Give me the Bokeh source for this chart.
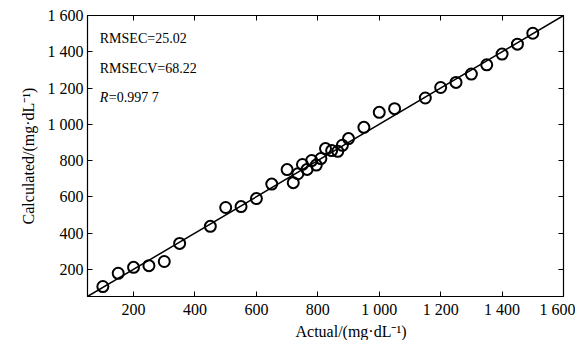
from bokeh.plotting import figure
from bokeh.models import Range1d, LinearAxis, Slope, Label, FixedTicker, Title
from bokeh.embed import file_html
from bokeh.resources import INLINE

actual = [100, 150, 200, 250, 300, 350, 450, 500, 550, 600, 650, 700, 720,
          735, 750, 765, 780, 795, 810, 825, 845, 865, 880, 900, 950, 1000,
          1050, 1150, 1200, 1250, 1300, 1350, 1400, 1450, 1500]
calculated = [105, 178, 211, 220, 243, 343, 437, 541, 546, 590, 670, 750, 678,
              727, 778, 751, 800, 775, 811, 866, 855, 851, 884, 921, 983, 1066,
              1086, 1145, 1203, 1231, 1277, 1328, 1387, 1442, 1502]
ticks = [200, 400, 600, 800, 1000, 1200, 1400, 1600]
tick_labels = ["200", "400", "600", "800", "1 000", "1 200", "1 400", "1 600"]
stats = ["RMSEC=25.02", "RMSECV=68.22"]
r_value = "=0.997 7"

FONT = "Liberation Serif"
overrides = {t: s for t, s in zip(ticks, tick_labels)}

p = figure(width=575, height=340, output_backend="svg", toolbar_location=None,
           x_range=Range1d(50, 1600), y_range=Range1d(50, 1600),
           min_border_left=87, min_border_right=12, min_border_top=15,
           min_border_bottom=44)
p.xgrid.visible = False
p.ygrid.visible = False
p.outline_line_color = "black"
p.outline_line_width = 1.2
p.background_fill_color = "white"
p.border_fill_color = "white"

for ax in (p.xaxis[0], p.yaxis[0]):
    ax.ticker = FixedTicker(ticks=ticks)
    ax.major_label_overrides = overrides
    ax.major_tick_in = 5
    ax.major_tick_out = 0
    ax.minor_tick_in = 0
    ax.minor_tick_out = 0
    ax.major_label_text_font = FONT
    ax.major_label_text_font_size = "16px"
    ax.major_label_text_color = "black"
    ax.axis_line_color = "black"
    ax.major_tick_line_color = "black"
    ax.major_label_standoff = 4

p.yaxis[0].axis_label = "Calculated/(mg·dL⁻¹)"
p.yaxis[0].axis_label_text_font = FONT
p.yaxis[0].axis_label_text_font_size = "16px"
p.yaxis[0].axis_label_text_font_style = "normal"
p.yaxis[0].axis_label_text_color = "black"
p.yaxis[0].axis_label_standoff = 8

for loc in ("right", "above"):
    a = LinearAxis(ticker=FixedTicker(ticks=ticks), major_tick_in=5,
                   major_tick_out=0, minor_tick_in=0, minor_tick_out=0,
                   major_label_overrides={t: "" for t in ticks},
                   major_label_standoff=0, axis_line_color="black")
    p.add_layout(a, loc)

# x axis title, shifted right like the reference
p.add_layout(Title(text="Actual/(mg·dL⁻¹)", align="left", offset=208,
                   text_font=FONT, text_font_size="16px",
                   text_font_style="normal", text_color="black", standoff=0),
             "below")

p.add_layout(Slope(gradient=1, y_intercept=0, line_color="black", line_width=1.5))

p.scatter(actual, calculated, size=11, marker="circle", fill_color=None,
          line_color="black", line_width=2)

for i, s in enumerate(stats):
    p.add_layout(Label(x=90, y=1550, y_offset=-14 - 30 * i, text=s,
                       text_font=FONT, text_font_size="14px",
                       text_baseline="alphabetic", text_color="black"))
p.add_layout(Label(x=90, y=1550, y_offset=-73, text="R", text_font=FONT,
                   text_font_size="14px", text_font_style="italic",
                   text_baseline="alphabetic", text_color="black"))
p.add_layout(Label(x=90, y=1550, x_offset=9, y_offset=-73, text=r_value,
                   text_font=FONT, text_font_size="14px",
                   text_baseline="alphabetic", text_color="black"))

open("out.html", "w").write(file_html(p, INLINE))
